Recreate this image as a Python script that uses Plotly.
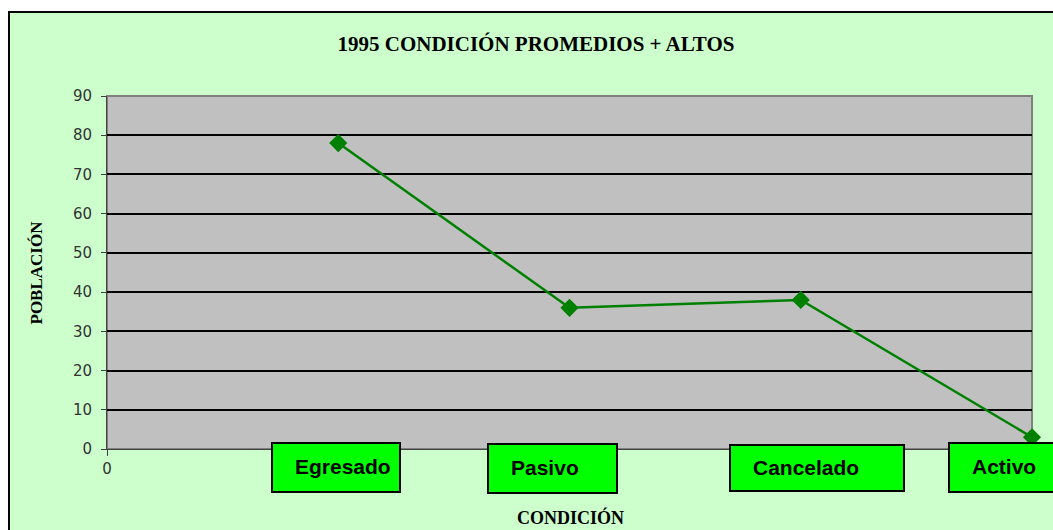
import plotly.graph_objects as go

# ---- data ----
categories = ["Egresado", "Pasivo", "Cancelado", "Activo"]
x_positions = [1, 2, 3, 4]
poblacion = [78, 36, 38, 3]
y_ticks = [0, 10, 20, 30, 40, 50, 60, 70, 80, 90]

W, H = 1053, 530
L, R, T, B = 107, 21, 96, 81
pw = W - L - R
ph = H - T - B


def px_x(p):
    return (p - L) / pw


def px_y(p):
    return (H - B - p) / ph


fig = go.Figure()
fig.add_trace(go.Scatter(
    x=x_positions, y=poblacion, mode="lines+markers",
    line=dict(color="#008000", width=2.5),
    marker=dict(symbol="diamond", size=14, color="#008000"),
    cliponaxis=False, showlegend=False, hoverinfo="skip",
))

# label boxes layout (pixel geometry): left, right, top, bottom
box_geom = [(272, 400, 443, 492), (488, 617, 444, 493), (730, 904, 445, 491), (949, 1070, 443, 492)]
text_pad = 21

shapes = [
    # white strips outside the chart border
    dict(type="rect", xref="paper", yref="paper", x0=px_x(-10), x1=px_x(9),
         y0=px_y(H + 10), y1=px_y(-10), fillcolor="white", line=dict(width=0), layer="below"),
    dict(type="rect", xref="paper", yref="paper", x0=px_x(-10), x1=px_x(W + 10),
         y0=px_y(12), y1=px_y(-10), fillcolor="white", line=dict(width=0), layer="below"),
    # chart border
    dict(type="rect", xref="paper", yref="paper", x0=px_x(9), x1=px_x(W + 20),
         y0=px_y(H + 20), y1=px_y(12), line=dict(color="#000000", width=2)),
    # plot area border (top/right)
    dict(type="rect", xref="paper", yref="paper", x0=0, x1=1, y0=0, y1=1,
         line=dict(color="#808080", width=2), layer="below"),
]

annotations = []
for cat, (bl, br, bt, bb) in zip(categories, box_geom):
    shapes.append(dict(type="rect", xref="paper", yref="paper",
                       x0=px_x(bl), x1=px_x(br), y0=px_y(bb), y1=px_y(bt),
                       fillcolor="#00FF00", line=dict(color="#000000", width=2)))
    annotations.append(dict(
        x=px_x(bl + text_pad), y=px_y((bt + bb) / 2 - 1), xref="paper", yref="paper",
        text="<b>" + cat + "</b>", showarrow=False, xanchor="left", yanchor="middle",
        font=dict(family="Liberation Sans, Arial", size=21, color="#000000"),
    ))

annotations.append(dict(
    x=px_x(24), y=px_y(273), xref="paper", yref="paper",
    text="<b>POBLACIÓN</b>", textangle=-90, showarrow=False,
    font=dict(family="Liberation Serif, Times New Roman", size=17, color="#000000"),
))
annotations.append(dict(
    x=px_x(570), y=px_y(517), xref="paper", yref="paper",
    text="<b>CONDICIÓN</b>", showarrow=False, yanchor="middle",
    font=dict(family="Liberation Serif, Times New Roman", size=18, color="#000000"),
))

fig.update_layout(
    width=W, height=H,
    margin=dict(l=L, r=R, t=T, b=B),
    paper_bgcolor="#CCFFCC",
    plot_bgcolor="#C0C0C0",
    hovermode=False,
    title=dict(text="<b>1995 CONDICIÓN PROMEDIOS + ALTOS</b>", x=536 / W, y=1 - 44 / H,
               xref="container", yref="container", xanchor="center", yanchor="middle",
               font=dict(family="Liberation Serif, Times New Roman", size=21, color="#000000")),
    xaxis=dict(range=[0, 4], tickvals=[0], ticktext=["0"], showgrid=False, zeroline=False,
               showline=True, linecolor="#404040", linewidth=1, ticks="outside", ticklen=6,
               tickcolor="#404040",
               tickfont=dict(family="DejaVu Sans", size=15, color="#333333")),
    yaxis=dict(range=[0, 90], tickvals=y_ticks, showgrid=True, gridcolor="#000000", gridwidth=1.5,
               zeroline=False, showline=True, linecolor="#404040", linewidth=1,
               ticks="outside", ticklen=5, tickcolor="#404040", ticklabelstandoff=6,
               tickfont=dict(family="DejaVu Sans", size=15, color="#333333")),
    annotations=annotations,
    shapes=shapes,
)

fig.write_html("out.html", config={"displayModeBar": False},
               post_script="document.body.style.margin='0';")
